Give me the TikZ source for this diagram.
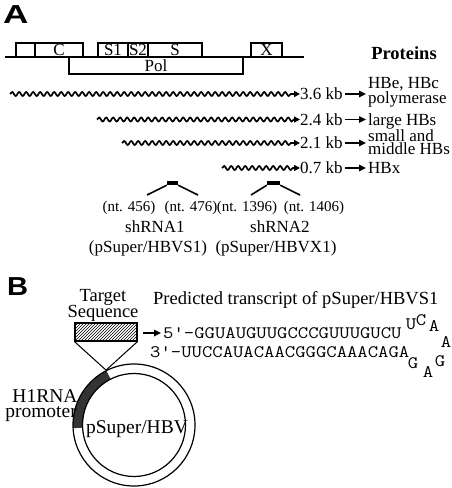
\documentclass[tikz,border=0pt]{standalone}
\usepackage{fontspec}
\usepackage{graphicx}
\setmainfont{Liberation Serif}
\newfontfamily\labfont{Liberation Sans}
\usetikzlibrary{decorations.pathmorphing,patterns,arrows.meta,calc}
\newcommand\fsz[1]{\fontsize{#1}{#1}\selectfont}
\begin{document}
\begin{tikzpicture}[x=1pt,y=-1pt,
  txt/.style={inner sep=0pt, font=\fsz{17}, text height=11.2pt, text depth=0pt},
  nt/.style={inner sep=0pt, font=\fsz{15}, text height=9.9pt, text depth=0pt},
  big/.style={inner sep=0pt, font=\fsz{19.5}, text height=12.8pt, text depth=0pt},
  mid/.style={inner sep=0pt, font=\fsz{18.5}, text height=12.2pt, text depth=0pt},
  mono/.style={inner sep=0pt, font=\ttfamily\fsz{17.5}, text height=10.7pt, text depth=0pt},
  gbox/.style={draw, line width=1.1pt, fill=white, minimum height=14pt, inner sep=0pt, font=\fsz{17}, text height=11.2pt, text depth=0pt},
  wavy/.style={line width=1.7pt, decorate, decoration={snake, amplitude=2pt, segment length=7pt, post length=6pt}, -{Triangle[length=6pt,width=6pt]}},
  arr/.style={line width=1.6pt, -{Triangle[length=7pt,width=6.5pt]}, shorten <=2pt, shorten >=2pt},
  mk/.style={line width=1.6pt},
  ring/.style={draw, circle, line width=1.2pt, inner sep=0pt},
]
\useasboundingbox (0,0) rectangle (452,488);
% panel labels
\node[anchor=north west, inner sep=0pt, font=\labfont\bfseries\fsz{26}] (labA) at (3,5) {\scalebox{1.35}[1]{A}};
\node[anchor=north west, inner sep=0pt, font=\labfont\bfseries\fsz{26}] (labB) at (7,277) {\scalebox{1.12}[1]{B}};
% genome map
\node[gbox, minimum height=17pt] (pol) at (156,65.5) [minimum width=174pt] {Pol};
\node[gbox, minimum width=19pt] (b0) at (25.5,50) {};
\node[gbox, minimum width=48pt] (bc) at (59,50) {C};
\node[gbox, minimum width=30pt] (bs1) at (113,50) {S1};
\node[gbox, minimum width=20pt] (bs2) at (138,50) {S2};
\node[gbox, minimum width=54pt] (bs) at (175,50) {S};
\node[gbox, minimum width=31pt] (bx) at (266.5,50) {X};
\coordinate (g0) at (5,57);
\coordinate (g1) at (304,57);
\draw[line width=1.4pt] (g0) -- (g1);
\node[inner sep=0pt, font=\bfseries\fsz{18.5}, text height=12.2pt, text depth=0pt] (prot) at (404,53) {Proteins};
% transcripts
\node[txt, anchor=west] (kb1) at (300,94) {3.6 kb};
\node[txt, anchor=west] (kb2) at (300,119.5) {2.4 kb};
\node[txt, anchor=west] (kb3) at (300,143) {2.1 kb};
\node[txt, anchor=west] (kb4) at (300,168) {0.7 kb};
\coordinate (w1) at (10,94);
\coordinate (w2) at (97,119.5);
\coordinate (w3) at (122,143);
\coordinate (w4) at (222,168);
\draw[wavy] (w1) -- (kb1.west);
\draw[wavy] (w2) -- (kb2.west);
\draw[wavy] (w3) -- (kb3.west);
\draw[wavy] (w4) -- (kb4.west);
\node[txt, anchor=west] (p1a) at (368,83) {HBe, HBc};
\node[txt, anchor=west] (p1b) at (368,98) {polymerase};
\node[txt, anchor=west] (p2) at (368,119.5) {large HBs};
\node[txt, anchor=west] (p3a) at (368,135.5) {small and};
\node[txt, anchor=west] (p3b) at (368,148.5) {middle HBs};
\node[txt, anchor=west] (p4) at (368,168) {HBx};
\draw[arr] (kb1.east) -- (kb1.east -| p1b.west);
\draw[arr] (kb2.east) -- (p2.west);
\draw[arr] (kb3.east) -- (kb3.east -| p3b.west);
\draw[arr] (kb4.east) -- (p4.west);
% shRNA markers
\node[fill, minimum width=11pt, minimum height=4pt, inner sep=0pt] (m1) at (172.5,183) {};
\coordinate (m1l) at (147,195);
\coordinate (m1r) at (198,195);
\draw[mk] (m1l) -- (m1.south west);
\draw[mk] (m1.south east) -- (m1r);
\node[fill, minimum width=13pt, minimum height=4pt, inner sep=0pt] (m2) at (273.5,183) {};
\coordinate (m2l) at (251,195);
\coordinate (m2r) at (300,195);
\draw[mk] (m2l) -- (m2.south west);
\draw[mk] (m2.south east) -- (m2r);
\node[nt] (n456) at (129,207) {(nt. 456)};
\node[nt] (n476) at (191,207) {(nt. 476)};
\node[nt] (n1396) at (247,207) {(nt. 1396)};
\node[nt] (n1406) at (314,207) {(nt. 1406)};
\node[txt] (sh1) at (155,227) {shRNA1};
\node[txt] (ps1) at (148,247) {(pSuper/HBVS1)};
\node[txt] (sh2) at (280,227) {shRNA2};
\node[txt] (ps2) at (276,247) {(pSuper/HBVX1)};
% panel B
\node[mid] (tg1) at (103,295) {Target};
\node[mid] (tg2) at (103,311) {Sequence};
\node[draw, line width=1.1pt, pattern=north east lines, minimum width=62pt, minimum height=18pt, inner sep=0pt] (tgt) at (106,332) {};
\node[mid, anchor=west] (pred) at (153,298) {Predicted transcript of pSuper/HBVS1};
% plasmid
\begin{scope}[shift={(134,425)}, x=1pt, y=1pt]
  \fill[black!80] (117:61) arc[start angle=117, end angle=183, radius=61]
     -- (183:51.5) arc[start angle=183, end angle=117, radius=51.5] -- cycle;
\end{scope}
\node[ring, minimum size=122pt] (outer) at (134,425) {};
\node[ring, minimum size=103pt] (inner) at (134,425) {};
\draw[line width=1pt] (tgt.south west) -- (outer.117) -- (tgt.south east);
\node[big] (h1) at (45,396) {H1RNA};
\node[big] (h2) at (41,411) {promoter};
\node[big] (psv) at (137,427) {pSuper/HBV};
% sequences
\coordinate (a0) at (143,333);
\node[mono, anchor=west] (s5) at (163,333) {\scalebox{1.15}[1]{5'-GGUAUGUUGCCCGUUUGUCU}};
\draw[arr, shorten <=0pt] (a0) -- (s5.west);
\node[mono, anchor=west] (s3) at (150,352) {\scalebox{1.15}[1]{3'-UUCCAUACAACGGGCAAACAGA}};
\node[mono] (l1) at (411,324) {\scalebox{1.15}[1]{U}};
\node[mono] (l2) at (421,320) {\scalebox{1.15}[1]{C}};
\node[mono] (l3) at (434,326) {\scalebox{1.15}[1]{A}};
\node[mono] (l4) at (446,342) {\scalebox{1.15}[1]{A}};
\node[mono] (l5) at (440,361) {\scalebox{1.15}[1]{G}};
\node[mono] (l6) at (428,372) {\scalebox{1.15}[1]{A}};
\node[mono] (l7) at (413,363) {\scalebox{1.15}[1]{G}};
\end{tikzpicture}
\end{document}
